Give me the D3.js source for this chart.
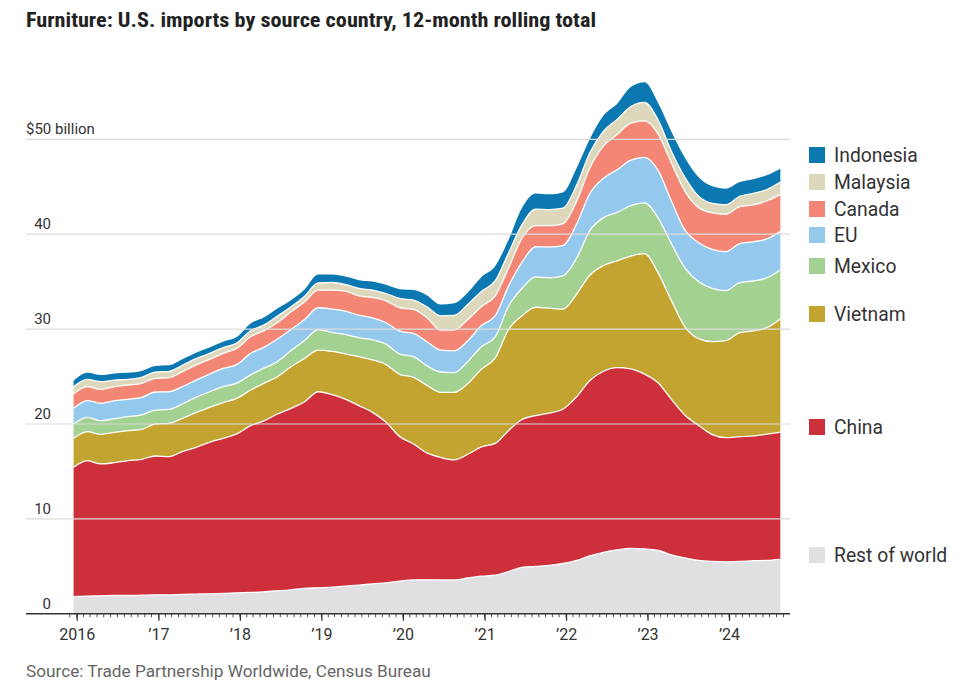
<!DOCTYPE html>
<html><head><meta charset="utf-8">
<script src="https://cdn.jsdelivr.net/npm/d3@7"></script>
<style>
body{margin:0;background:#fff;}
svg{display:block;font-family:Roboto,"Noto Sans",sans-serif;}
</style></head><body>
<svg id="chart" width="977" height="693"></svg>
<script>
// ---- DATA (12-month rolling totals, $ billion, every second month) ----
const months = ["2015-12","2016-02","2016-04","2016-06","2016-08","2016-10","2016-12","2017-02","2017-04","2017-06","2017-08","2017-10","2017-12","2018-02","2018-04","2018-06","2018-08","2018-10","2018-12","2019-02","2019-04","2019-06","2019-08","2019-10","2019-12","2020-02","2020-04","2020-06","2020-08","2020-10","2020-12","2021-02","2021-04","2021-06","2021-08","2021-10","2021-12","2022-02","2022-04","2022-06","2022-08","2022-10","2022-12","2023-02","2023-04","2023-06","2023-08","2023-10","2023-12","2024-02","2024-04","2024-06","2024-08"];
const restOfWorld = [1.82,1.86,1.89,1.93,1.93,1.96,2.0,2.0,2.04,2.07,2.11,2.14,2.21,2.25,2.32,2.42,2.53,2.67,2.74,2.81,2.91,3.02,3.16,3.26,3.44,3.58,3.58,3.56,3.56,3.78,3.96,4.07,4.44,4.89,5.0,5.11,5.30,5.63,6.11,6.48,6.74,6.89,6.85,6.67,6.22,5.89,5.63,5.52,5.48,5.52,5.59,5.63,5.74];
const china = [13.62,14.28,13.90,14.00,14.21,14.32,14.63,14.56,15.05,15.47,15.96,16.35,16.74,17.57,18.00,18.63,19.12,19.68,20.66,20.28,19.72,18.91,18.07,16.92,15.23,14.31,13.37,12.92,12.66,13.03,13.63,13.89,14.86,15.59,15.89,16.04,16.26,17.26,18.48,19.08,19.19,18.92,18.41,17.66,16.37,15.04,14.22,13.37,13.08,13.15,13.15,13.30,13.41];
const vietnam = [3.05,3.05,3.12,3.19,3.16,3.16,3.37,3.51,3.51,3.65,3.68,3.76,3.75,3.76,3.96,3.93,4.39,4.56,4.39,4.56,4.77,5.16,5.54,6.07,6.56,7.02,7.12,6.85,7.11,7.45,8.19,9.00,10.63,10.93,11.41,11.05,10.54,10.81,11.11,11.14,11.27,11.89,12.69,11.57,10.41,9.29,9.15,9.78,10.22,10.96,11.07,11.22,11.92];
const mexico = [1.51,1.51,1.44,1.44,1.47,1.51,1.47,1.47,1.51,1.62,1.65,1.68,1.60,1.60,1.60,1.58,1.70,1.90,2.17,2.00,2.04,2.00,2.11,2.17,2.14,2.18,2.05,2.15,2.08,2.33,2.37,2.23,2.45,2.89,3.20,3.20,3.50,3.80,4.70,5.05,5.10,5.30,5.35,5.80,6.00,6.20,6.00,5.63,5.28,5.27,5.26,5.25,5.16];
const eu = [1.65,1.76,1.83,1.90,1.83,1.86,1.90,1.86,1.82,1.82,1.86,1.93,1.95,2.26,2.19,2.39,2.22,2.21,2.29,2.46,2.45,2.38,2.31,2.25,2.42,2.45,2.55,2.30,2.29,2.19,2.22,2.22,2.12,2.75,3.18,3.25,3.20,3.60,3.90,4.15,4.50,4.80,4.80,5.00,4.50,4.00,4.10,4.10,4.09,4.10,4.13,4.10,4.07];
const canada = [1.51,1.47,1.47,1.47,1.51,1.47,1.44,1.48,1.58,1.58,1.55,1.58,1.72,1.75,1.75,1.72,1.86,1.86,1.86,2.00,2.11,2.04,2.14,2.31,2.46,2.53,2.53,2.12,2.20,2.22,2.00,2.09,1.90,2.55,2.22,2.25,2.30,2.40,2.70,3.40,3.70,3.90,3.85,3.85,4.00,4.10,3.70,3.85,3.95,3.90,3.90,4.00,3.90];
const malaysia = [0.77,0.77,0.81,0.70,0.59,0.63,0.66,0.66,0.67,0.67,0.63,0.60,0.56,0.63,0.60,0.70,0.53,0.59,0.77,0.80,0.70,0.77,0.78,0.77,0.98,0.98,1.15,1.50,1.55,1.60,1.60,1.60,1.60,1.40,1.75,1.70,1.65,1.70,1.60,1.55,1.60,1.75,1.95,1.45,1.25,1.45,1.20,1.00,1.00,1.10,1.20,1.20,1.30];
const indonesia = [0.63,0.70,0.70,0.70,0.70,0.67,0.64,0.64,0.63,0.63,0.63,0.63,0.63,0.78,0.81,0.81,0.70,0.71,0.87,0.84,0.84,0.88,0.91,0.92,0.98,1.06,1.20,1.19,1.27,1.25,1.53,1.56,1.40,1.80,1.65,1.60,1.65,1.80,1.45,1.65,1.65,2.05,2.10,1.80,2.05,2.05,2.00,1.80,1.70,1.50,1.50,1.50,1.40];

const seriesNames = ["Rest of world","China","Vietnam","Mexico","EU","Canada","Malaysia","Indonesia"];
const seriesValues = [restOfWorld, china, vietnam, mexico, eu, canada, malaysia, indonesia];
const yTicks = [0,10,20,30,40,50];
const yearTicks = [2016,2017,2018,2019,2020,2021,2022,2023,2024];
const yearLabels = ["2016","\u201917","\u201918","\u201919","\u201920","\u201921","\u201922","\u201923","\u201924"];

// ---- STYLE / LAYOUT ----
const colors = ["#e0e0e2","#cd2f3b","#c4a431","#a2d191","#94c9ed","#f38675","#ddd8bb","#0b78b1"];
const legendCenters = [555, 427, 314, 266, 235, 209, 182, 155];
const left = 26, right = 790, baseY = 613.8, topY = 139.3;

const svg = d3.select("#chart");
const parse = d3.timeParse("%Y-%m");
const rows = months.map((m,i) => {
  const d = parse(m); d.setDate(18);
  const r = {date: d};
  seriesNames.forEach((n,j) => r[n] = seriesValues[j][i]);
  return r;
});

const x = d3.scaleTime().domain([new Date(2016,0,1), new Date(2024,0,1)]).range([76.7, 729]);
const y = d3.scaleLinear().domain([0,50]).range([baseY, topY]);

const stack = d3.stack().keys(seriesNames)(rows);

const area = d3.area().x(d => x(d.data.date)).y0(d => y(d[0])).y1(d => y(d[1])).curve(d3.curveMonotoneX);
const topLine = d3.line().x(d => x(d.data.date)).y(d => y(d[1])).curve(d3.curveMonotoneX);

svg.append("g").selectAll("path").data(stack).join("path")
  .attr("d", area).attr("fill", (d,i) => colors[i]);
svg.append("g").selectAll("path").data(stack.slice(0, -1)).join("path")
  .attr("d", topLine).attr("fill","none").attr("stroke","#fff").attr("stroke-width",1.3);

// gridlines (drawn over areas)
svg.append("g").selectAll("line").data(yTicks.filter(t => t > 0)).join("line")
  .attr("x1", left).attr("x2", right).attr("y1", d => y(d)).attr("y2", d => y(d))
  .attr("stroke", "#dcdcdc").attr("stroke-width", 1.2);

// y labels
svg.append("g").selectAll("text").data(yTicks).join("text")
  .attr("x", d => d === 50 ? left : 51)
  .attr("y", d => y(d) - 5)
  .attr("text-anchor", d => d === 50 ? "start" : "end")
  .attr("font-size", 15).attr("fill", "#333")
  .text(d => d === 50 ? "$50 billion" : d);

// x axis
const axisG = svg.append("g").attr("transform", `translate(0,${baseY})`);
const minorTicks = d3.timeMonth.range(new Date(2015,11,1), new Date(2024,10,1)).filter(d => x(d) <= right);
axisG.selectAll("line.minor").data(minorTicks).join("line").attr("class","minor")
  .attr("x1", d => x(d)).attr("x2", d => x(d)).attr("y1", 0).attr("y2", 3.5)
  .attr("stroke", "#555").attr("stroke-width", 1);
const majorAxis = d3.axisBottom(x)
  .tickValues(yearTicks.map(yr => new Date(yr,0,1)))
  .tickFormat((d,i) => yearLabels[i]).tickSize(7).tickPadding(8);
const mg = svg.append("g").attr("transform", `translate(0,${baseY})`).call(majorAxis);
mg.select(".domain").remove();
mg.selectAll(".tick line").attr("stroke","#333").attr("stroke-width",1.3);
mg.selectAll(".tick text").attr("font-size",16).attr("fill","#333").attr("font-family","Roboto,sans-serif");
svg.append("line").attr("x1", left).attr("x2", right).attr("y1", baseY).attr("y2", baseY)
  .attr("stroke", "#333").attr("stroke-width", 1.5);

// legend
const lg = svg.append("g").selectAll("g").data(seriesNames).join("g")
  .attr("transform", (d,i) => `translate(809,${legendCenters[i]})`);
lg.append("rect").attr("x",0).attr("y",-8).attr("width",16).attr("height",16).attr("fill",(d,i)=>colors[i]);
lg.append("text").attr("x",25).attr("y",6.8).attr("font-size",19.3).attr("fill","#333").text(d => d);

// title & source
const title = svg.append("text").attr("x", 26).attr("y", 27)
  .attr("font-family", "'Liberation Sans Narrow','Roboto Condensed',Roboto,sans-serif")
  .attr("font-weight", 700).attr("font-size", 20).attr("fill", "#222")
  .text("Furniture: U.S. imports by source country, 12-month rolling total");
const tw = title.node().getComputedTextLength();
if (Math.abs(tw - 570) > 8) title.attr("textLength", 570).attr("lengthAdjust", "spacingAndGlyphs");

svg.append("text").attr("x", 26).attr("y", 677).attr("font-size", 17.2).attr("fill", "#666")
  .text("Source: Trade Partnership Worldwide, Census Bureau");
</script>
</body></html>
